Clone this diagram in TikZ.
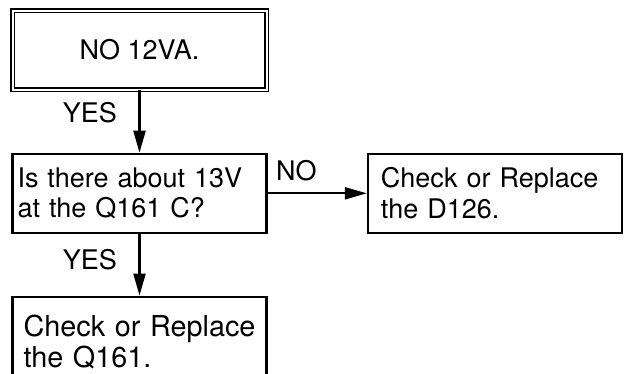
\documentclass[tikz,border=0pt]{standalone}
\usepackage{fontspec}
\setmainfont{TeX Gyre Heros}
\usetikzlibrary{arrows.meta}

\begin{document}
\begin{tikzpicture}[x=1pt, y=-1pt,
    box/.style={draw, line width=2.2pt, minimum width=254pt, minimum height=79pt,
      inner ysep=0pt, align=left, font=\fontsize{27}{30.5}\selectfont},
    startbox/.style={box, double, double distance=2pt, line width=1.9pt, align=center},
    flow/.style={line width=2.2pt, -{Triangle[length=22pt, width=12pt]}},
    lbl/.style={inner sep=0pt, font=\fontsize{27}{30.5}\selectfont}]
    \useasboundingbox (0,0) rectangle (624,373);
    \clip (0,0) rectangle (624,373);
    \node [startbox] (noVA) at (139.5,50) {NO 12VA.};
    \node [box, inner xsep=5pt, text width=244pt] (ask13V) at (139.5,193.3)
      {Is there about 13V\\at the Q161 C?};
    \node [box, inner xsep=13pt, text width=228pt] (chkD126) at (494.9,193.3)
      {Check or Replace\\the D126.};
    \node [box, inner xsep=11pt, text width=232pt, minimum height=90.6pt,
      font=\fontsize{28.8}{31}\selectfont] (chkQ161) at (139.5,342)
      {Check or Replace\\the Q161.};
    \draw [flow] (noVA) -- node [lbl, pos=0.36, left=21.5pt] {YES} (ask13V);
    \draw [flow] (ask13V) -- node [lbl, pos=0.41, left=21.5pt] {YES} (chkQ161);
    \draw [flow] (ask13V) -- node [lbl, pos=0.29, above=11pt] {NO} (chkD126);
\end{tikzpicture}
\end{document}
